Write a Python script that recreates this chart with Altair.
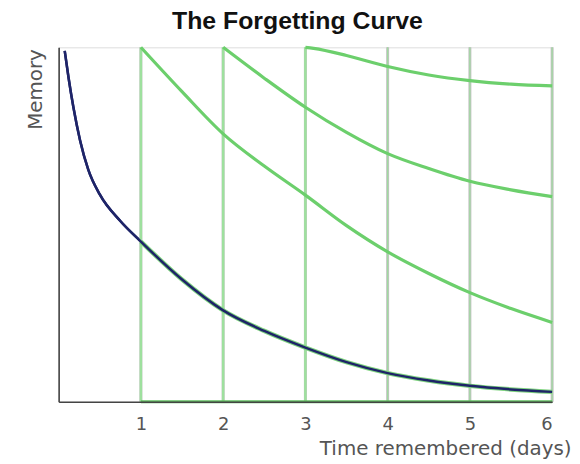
import altair as alt
import pandas as pd

# Initial forgetting curve (no review)
blue_day = [0.074, 0.12, 0.18, 0.26, 0.36, 0.5, 0.75, 1.0, 1.5, 2.0, 2.5, 3.0, 3.5, 4.0, 4.5, 5.0, 5.5, 6.0]
blue_mem = [0.99, 0.915, 0.83, 0.738, 0.655, 0.585, 0.51, 0.452, 0.345, 0.258, 0.2, 0.153, 0.112, 0.081, 0.06, 0.045, 0.035, 0.028]

# Curves after each review
g1_day = [1.0, 1.5, 2.0, 2.5, 3.0, 3.5, 4.0, 4.5, 5.0, 5.5, 6.0]
g1_mem = [1.0, 0.875, 0.756, 0.665, 0.583, 0.497, 0.423, 0.362, 0.308, 0.263, 0.224]
g2_day = [2.0, 2.5, 3.0, 3.5, 4.0, 4.5, 5.0, 5.5, 6.0]
g2_mem = [1.0, 0.913, 0.831, 0.76, 0.70, 0.658, 0.622, 0.598, 0.579]
g3_day = [3.0, 3.1, 3.5, 4.0, 4.5, 5.0, 5.5, 6.0]
g3_mem = [1.0, 0.997, 0.977, 0.946, 0.922, 0.906, 0.896, 0.891]

review_days = [1, 2, 3]
grid_days = [1, 2, 3, 4, 5, 6]
tick_values = [1, 2, 3, 4, 5, 6]

blue_df = pd.DataFrame({"day": blue_day, "memory": blue_mem})
blue_after = blue_df[blue_df["day"] >= 1.0]
green_df = pd.concat([
    pd.DataFrame({"day": g1_day, "memory": g1_mem, "series": "r1"}),
    pd.DataFrame({"day": g2_day, "memory": g2_mem, "series": "r2"}),
    pd.DataFrame({"day": g3_day, "memory": g3_mem, "series": "r3"}),
])
grid_df = pd.DataFrame({"day": grid_days, "top": [1.0] * len(grid_days), "bottom": [0.0] * len(grid_days)})
review_df = pd.DataFrame({"day": review_days, "top": [1.0] * 3, "bottom": [0.0] * 3})
base_df = pd.DataFrame({"day": [1.0], "day2": [6.0], "y": [0.0]})

FONT = "DejaVu Sans"

x_enc = alt.X(
    "day:Q",
    scale=alt.Scale(domain=[0, 6], nice=False, zero=True),
    axis=alt.Axis(
        values=tick_values, format="d", ticks=False, tickSize=0, grid=False, labelPadding=14,
        labelFont=FONT, labelFontSize=18, labelColor="#555555",
        domainColor="#444444", domainWidth=1.6,
        title="Time remembered (days)", titleFont=FONT, titleFontSize=20,
        titleFontWeight="normal", titleColor="#555555",
        titleAlign="right", titleAnchor="end", titleX=516, titleY=53,
        titleBaseline="alphabetic", zindex=1,
    ),
)
y_enc = alt.Y(
    "memory:Q",
    scale=alt.Scale(domain=[0, 1], nice=False),
    axis=alt.Axis(
        labels=False, ticks=False, grid=False,
        domainColor="#444444", domainWidth=1.6,
        title="Memory", titleFont=FONT, titleFontSize=20, titleFontWeight="normal",
        titleColor="#555555", titleX=-23, titleY=42, titleAlign="center",
        titleBaseline="middle", titleAngle=270, zindex=1,
    ),
)

grid = alt.Chart(grid_df).mark_rule(color="#c2c2c2", strokeWidth=3).encode(
    x="day:Q", y=alt.Y("bottom:Q"), y2="top:Q"
)
grid_green = alt.Chart(grid_df).mark_rule(color="#9edb9e", strokeWidth=1.2).encode(
    x="day:Q", y="bottom:Q", y2="top:Q"
)
review = alt.Chart(review_df).mark_rule(color="#9ee09e", strokeWidth=2.5).encode(
    x="day:Q", y="bottom:Q", y2="top:Q"
)
base_green = alt.Chart(base_df).mark_rule(color="#5fbf5f", strokeWidth=3).encode(
    x="day:Q", x2="day2:Q", y="y:Q"
)
blue_under = alt.Chart(blue_after).mark_line(
    color="#7fd37f", strokeWidth=4.5, interpolate="monotone"
).encode(x="day:Q", y="memory:Q")
green = alt.Chart(green_df).mark_line(
    color="#6ccf6c", strokeWidth=3.2, interpolate="monotone"
).encode(x="day:Q", y="memory:Q", detail="series:N")
blue = alt.Chart(blue_df).mark_line(
    color="#1e2468", strokeWidth=2.5, interpolate="monotone"
).encode(x=x_enc, y=y_enc)

chart = alt.layer(
    blue, grid, grid_green, review, base_green, blue_under, green, blue
).properties(
    width=497,
    height=357,
    padding={"left": 51, "top": 38, "right": 20, "bottom": 56},
    autosize=alt.AutoSizeParams(type="none"),
    title=alt.TitleParams(
        "The Forgetting Curve", font="Liberation Sans", fontSize=25, fontWeight="bold",
        color="#111111", anchor="middle", dx=-8, dy=-7, offset=0, baseline="top",
    ),
).configure_view(stroke=None).configure(background="white")

chart.save("out.html", embed_options={"renderer": "svg", "actions": False})
